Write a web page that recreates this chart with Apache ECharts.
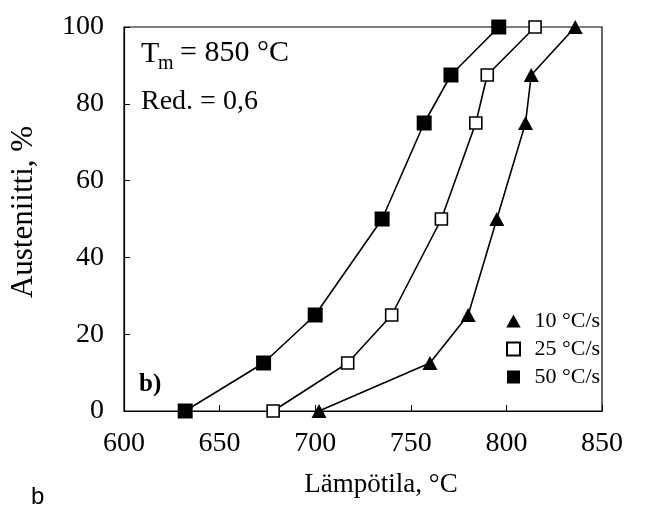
<!DOCTYPE html>
<html>
<head>
<meta charset="utf-8">
<script src="https://cdn.jsdelivr.net/npm/echarts@6/dist/echarts.min.js"></script>
<style>
  html, body { margin: 0; padding: 0; background: #fff; }
  #chart { width: 652px; height: 509px; }
</style>
</head>
<body>
<div id="chart"></div>
<script>
// mitatut pisteet (lämpötila, austeniitti %)
var rate10 = [[702, 0], [760, 12.5], [780, 25], [795, 50], [810, 75], [813, 87.5], [836, 100]];
var rate25 = [[678, 0], [717, 12.5], [740, 25], [766, 50], [784, 75], [790, 87.5], [815, 100]];
var rate50 = [[632, 0], [673, 12.5], [700, 25], [735, 50], [757, 75], [771, 87.5], [796, 100]];
var seriesNames = ['10 °C/s', '25 °C/s', '50 °C/s'];
var xTicks = [600, 650, 700, 750, 800, 850];
var yTicks = [0, 20, 40, 60, 80, 100];

var serif = '"Liberation Serif", "DejaVu Serif", serif';
var chart = echarts.init(document.getElementById('chart'));

var option = {
    backgroundColor: '#fff',
    animation: false,
    grid: {
        left: 124, right: 50, top: 27, bottom: 98,
        show: true, borderColor: '#000', borderWidth: 1.2
    },
    legend: {
        orient: 'vertical',
        left: 506,
        top: 310,
        padding: 0,
        itemWidth: 32,
        itemHeight: 13,
        itemGap: 6,
        textStyle: { fontFamily: serif, fontSize: 22, lineHeight: 22, color: '#000' },
        data: [
            { name: seriesNames[0], icon: 'path://M0.5,0L1,0.9L0,0.9Z' },
            { name: seriesNames[1], icon: 'path://M0,0L1,0L1,1L0,1Z' },
            { name: seriesNames[2], icon: 'path://M0,0L1,0L1,1L0,1Z' }
        ]
    },
    xAxis: {
        type: 'value',
        min: xTicks[0], max: xTicks[xTicks.length - 1], interval: 50,
        name: 'Lämpötila, °C',
        nameLocation: 'middle',
        nameGap: 60,
        nameTextStyle: { fontFamily: serif, fontSize: 27, color: '#000', padding: [0, 0, 0, 36] },
        axisLine: { lineStyle: { color: '#000', width: 1.2 } },
        axisTick: { inside: true, length: 6, lineStyle: { color: '#000' } },
        axisLabel: { fontFamily: serif, fontSize: 28, color: '#000', margin: 19 },
        splitLine: { show: false }
    },
    yAxis: {
        type: 'value',
        min: yTicks[0], max: yTicks[yTicks.length - 1], interval: 20,
        name: 'Austeniitti, %',
        nameLocation: 'middle',
        nameGap: 85,
        nameTextStyle: { fontFamily: serif, fontSize: 31, color: '#000', padding: [0, 0, 0, 14] },
        axisLine: { lineStyle: { color: '#000', width: 1.2 } },
        axisTick: { inside: true, length: 6, lineStyle: { color: '#000' } },
        axisLabel: { fontFamily: serif, fontSize: 28, color: '#000', margin: 20, padding: [0, 0, 10, 0] },
        splitLine: { show: false }
    },
    graphic: [
        { type: 'text', left: 141, top: 39, style: { text: 'T', fontFamily: serif, fontSize: 30, fill: '#000' } },
        { type: 'text', left: 158, top: 54, style: { text: 'm', fontFamily: serif, fontSize: 20, fill: '#000' } },
        { type: 'text', left: 180, top: 38, style: { text: '= 850 °C', fontFamily: serif, fontSize: 30, fill: '#000' } },
        { type: 'text', left: 141, top: 88, style: { text: 'Red. = 0,6', fontFamily: serif, fontSize: 28, fill: '#000' } },
        { type: 'text', left: 139, top: 372, style: { text: 'b)', fontFamily: serif, fontSize: 25, fontWeight: 'bold', fill: '#000' } },
        { type: 'text', left: 31, top: 485, style: { text: 'b', fontFamily: '"Liberation Sans", Arial, sans-serif', fontSize: 24, fill: '#000' } }
    ],
    series: [
        {
            name: seriesNames[0], type: 'line', data: rate10,
            symbol: 'triangle', symbolSize: [15, 14],
            lineStyle: { color: '#000', width: 1.6 },
            itemStyle: { color: '#000' }
        },
        {
            name: seriesNames[1], type: 'line', data: rate25,
            symbol: 'rect', symbolSize: 12,
            lineStyle: { color: '#000', width: 1.6 },
            itemStyle: { color: '#fff', borderColor: '#000', borderWidth: 1.6 }
        },
        {
            name: seriesNames[2], type: 'line', data: rate50,
            symbol: 'rect', symbolSize: 15,
            lineStyle: { color: '#000', width: 1.6 },
            itemStyle: { color: '#000' }
        }
    ]
};
chart.setOption(option);
</script>
</body>
</html>
